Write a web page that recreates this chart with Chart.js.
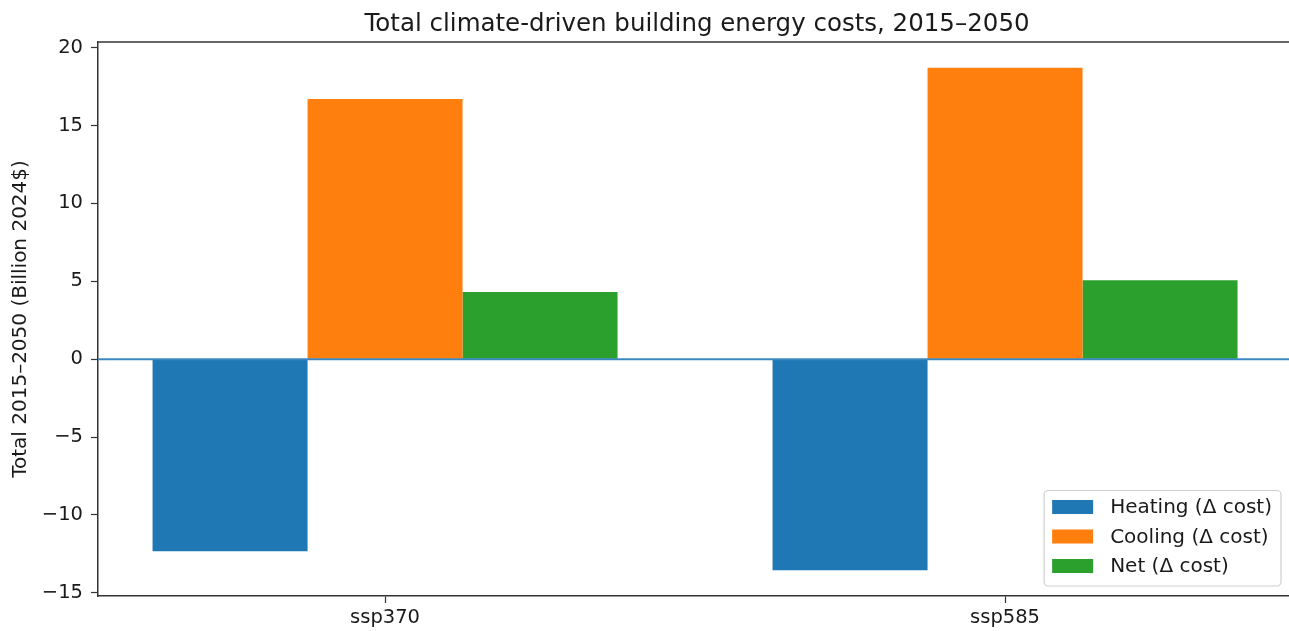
<!DOCTYPE html>
<html>
<head>
<meta charset="utf-8">
<script src="https://cdn.jsdelivr.net/npm/chart.js@4/dist/chart.umd.min.js"></script>
<style>
    html, body { margin: 0; padding: 0; background: #fff; }
    #wrap { width: 1289px; height: 631px; }
</style>
</head>
<body>
<div id="wrap"><canvas id="c"></canvas></div>
<script>
const categories = [ 'ssp370', 'ssp585' ];
const heating = [ -12.33, -13.55 ];
const cooling = [ 16.70, 18.71 ];
const net = [ 4.32, 5.07 ];
const yTicks = [ -15, -10, -5, 0, 5, 10, 15, 20 ];

const seriesLabels = [ 'Heating (\u0394 cost)', 'Cooling (\u0394 cost)', 'Net (\u0394 cost)' ];
const seriesColors = [ '#1f77b4', '#ff7f0e', '#2ca02c' ];

const FONT = '"DejaVu Sans", sans-serif';
const TEXT = '#1a1a1a';
const SPINE = '#333';

Chart.defaults.font.family = FONT;
Chart.defaults.font.size = 19.5;
Chart.defaults.color = TEXT;
Chart.defaults.animation = false;
Chart.defaults.responsive = true;
Chart.defaults.maintainAspectRatio = false;

const toPoints = ( arr ) => arr.map( ( v, i ) => ( { x: i, y: v } ) );

// title, top spine, zero line and framed legend, drawn like matplotlib does
const extras = {
    id: 'extras',
    afterDatasetsDraw ( chart ) {
        const { ctx, chartArea: a, scales } = chart;
        ctx.save();

        // zero line
        const y0 = scales.y.getPixelForValue( 0 );
        ctx.strokeStyle = '#3a87c0';
        ctx.lineWidth = 2;
        ctx.beginPath();
        ctx.moveTo( a.left, y0 );
        ctx.lineTo( a.right, y0 );
        ctx.stroke();

        // top spine
        ctx.strokeStyle = SPINE;
        ctx.lineWidth = 1.5;
        ctx.beginPath();
        ctx.moveTo( a.left, a.top );
        ctx.lineTo( a.right, a.top );
        ctx.stroke();

        // title centred over the full axes
        ctx.fillStyle = TEXT;
        ctx.font = '24.5px ' + FONT;
        ctx.textAlign = 'center';
        ctx.textBaseline = 'alphabetic';
        const xc = scales.x.getPixelForValue( ( categories.length - 1 ) / 2 );
        ctx.fillText( 'Total climate-driven building energy costs, 2015\u20132050', xc + 2, 31 );

        // legend, lower right
        ctx.font = '20px ' + FONT;
        const ds = chart.data.datasets;
        const tw = Math.max( ...ds.map( d => ctx.measureText( d.label ).width ) );
        const rowH = 29.5;
        const w = 66 + tw + 9;
        const h = ds.length * rowH + 7;
        const right = a.right - 8;
        const bottom = a.bottom - 10;
        const left = right - w;
        const top = bottom - h;

        ctx.fillStyle = 'rgba(255,255,255,0.85)';
        ctx.strokeStyle = '#cfcfcf';
        ctx.lineWidth = 1.2;
        ctx.beginPath();
        ctx.roundRect( left, top, w, h, 4 );
        ctx.fill();
        ctx.stroke();

        ctx.textAlign = 'left';
        ctx.textBaseline = 'middle';
        ds.forEach( ( d, i ) => {
            const cy = top + 16.5 + i * rowH;
            ctx.fillStyle = d.backgroundColor;
            ctx.fillRect( left + 8, cy - 7, 41, 14 );
            ctx.fillStyle = TEXT;
            ctx.fillText( d.label, left + 66, cy + 1 );
        } );

        ctx.restore();
    }
};

new Chart( document.getElementById( 'c' ), {
    type: 'bar',
    data: {
        datasets: [ heating, cooling, net ].map( ( vals, i ) => ( {
            label: seriesLabels[ i ],
            data: toPoints( vals ),
            backgroundColor: seriesColors[ i ],
            borderWidth: 0,
            categoryPercentage: 0.75,
            barPercentage: 1.0
        } ) )
    },
    options: {
        layout: { padding: { top: 42, left: 0, right: 0, bottom: 0 } },
        plugins: {
            legend: { display: false },
            tooltip: { enabled: false }
        },
        scales: {
            x: {
                type: 'linear',
                min: -0.463,
                max: 1.458,
                offset: false,
                afterBuildTicks ( scale ) {
                    scale.ticks = categories.map( ( c, i ) => ( { value: i } ) );
                },
                afterFit ( scale ) { scale.height = 35; },
                ticks: {
                    callback: ( v ) => categories[ v ],
                    padding: 3,
                    maxRotation: 0,
                    autoSkip: false
                },
                grid: {
                    offset: false,
                    drawOnChartArea: false,
                    drawTicks: true,
                    tickLength: 7,
                    tickWidth: 1.2,
                    tickColor: SPINE
                },
                border: { display: true, color: SPINE, width: 1.5 }
            },
            y: {
                min: -15.2,
                max: 20.36,
                afterBuildTicks ( scale ) {
                    scale.ticks = yTicks.map( v => ( { value: v } ) );
                },
                afterFit ( scale ) { scale.width = 98; },
                ticks: {
                    callback: ( v ) => String( v ).replace( '-', '\u2212' ),
                    padding: 8
                },
                grid: {
                    drawOnChartArea: false,
                    drawTicks: true,
                    tickLength: 7,
                    tickWidth: 1.2,
                    tickColor: SPINE
                },
                border: { display: true, color: SPINE, width: 1.5 },
                title: {
                    display: true,
                    text: 'Total 2015\u20132050 (Billion 2024$)',
                    font: { size: 20 },
                    padding: { top: 9, bottom: 0 }
                }
            }
        }
    },
    plugins: [ extras ]
} );
</script>
</body>
</html>
